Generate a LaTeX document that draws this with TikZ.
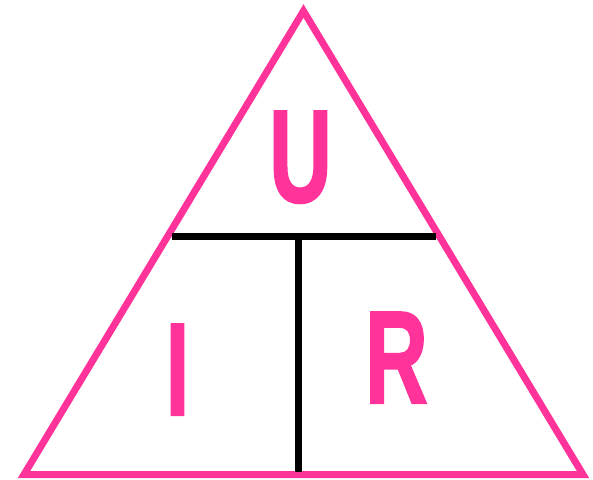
\documentclass[tikz,border=0pt]{standalone}
\usepackage{fontspec}
\setmainfont{Liberation Sans}
\newfontfamily\letterfont{Liberation Sans}[UprightFont=* Bold,FakeBold=1.5]
\definecolor{tripink}{HTML}{FF3399}
\begin{document}
\begin{tikzpicture}[x=1pt,y=-1pt,
  edge/.style={draw=tripink,line width=7pt,line join=miter},
  bar/.style={draw=black,line width=7.5pt},
  letter/.style={text=tripink,inner sep=0pt,anchor=base,
    font=\fontsize{132}{132}\letterfont}]
\useasboundingbox (0,0) rectangle (593,479);
\coordinate (apex) at (303.5,11);
\coordinate (bl) at (24,474.5);
\coordinate (br) at (583,474.5);
\draw[edge] (apex) -- (bl) -- (br) -- cycle;
\coordinate (hl) at (172,236.5);
\coordinate (hr) at (436,236.5);
\coordinate (vt) at (298.5,236.5);
\coordinate (vb) at (298.5,472);
\draw[bar] (hl) -- (hr);
\draw[bar] (vt) -- (vb);
\node[letter] (u) at (300.5,202) {\scalebox{0.66}[1]{U}};
\node[letter] (i) at (177.5,415) {\scalebox{0.66}[1]{I}};
\node[letter] (r) at (396.5,403) {\scalebox{0.66}[1]{R}};
\end{tikzpicture}
\end{document}
